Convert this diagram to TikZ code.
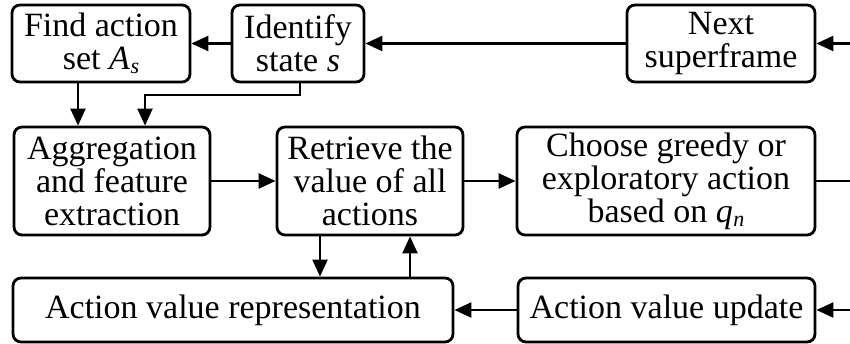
\documentclass[tikz,border=0pt]{standalone}
\usepackage{fontspec}
\setmainfont{Liberation Serif}
\usetikzlibrary{arrows.meta}
\newcommand{\subit}[1]{\kern0.5pt\raisebox{-0.28ex}{\fontsize{22}{22}\selectfont\itshape #1}}
\begin{document}
\begin{tikzpicture}[x=1pt,y=-1pt,
  box/.style={draw,line width=2.8pt,rounded corners=8pt,align=center,inner sep=0pt,
    font=\fontsize{34}{33}\selectfont},
  flow/.style={line width=2.3pt,-{Triangle[length=17pt,width=15pt]}},
  plain/.style={line width=2.3pt}]
\useasboundingbox (0,0) rectangle (850,344);
% top row
\node[box,minimum width=178pt,minimum height=77pt] (find) at (101,43.5)
  {Find action\\set \textit{A}\subit{s}};
\node[box,minimum width=132pt,minimum height=77pt] (ident) at (298,43.5)
  {Identify\\state \textit{s}};
\node[box,minimum width=188pt,minimum height=77pt] (next) at (721,43.5)
  {Next\\superframe};
% middle row
\node[box,minimum width=196pt,minimum height=108pt] (agg) at (112,181)
  {Aggregation\\and feature\\extraction};
\node[box,minimum width=186pt,minimum height=108pt] (ret) at (370,181)
  {Retrieve the\\value of all\\actions};
\node[box,minimum width=298pt,minimum height=108pt] (choose) at (666,181)
  {Choose greedy or\\exploratory action\\based on \textit{q}\subit{n}};
% bottom row
\node[box,minimum width=440pt,minimum height=64pt] (rep) at (233,310)
  {Action value representation};
\node[box,minimum width=297pt,minimum height=64pt] (upd) at (666.5,310)
  {Action value update};
% free ends at the right border and bend points
\coordinate (inTop) at (850,43.5);
\coordinate (outMid) at (850,181);
\coordinate (inBot) at (850,310);
\coordinate (xa) at (78,0);
\coordinate (xb) at (145,0);
\coordinate (xs) at (300,0);
\coordinate (bend) at (0,95);
\coordinate (xd) at (320,0);
\coordinate (xu) at (410,0);
% connectors
\draw[flow] (inTop) -- (next.east);
\draw[flow] (next.west) -- (ident.east);
\draw[flow] (ident.west) -- (find.east);
\draw[flow] (xa |- find.south) -- (xa |- agg.north);
\draw[flow] (xs |- ident.south) -- (xs |- bend) -- (xb |- bend) -- (xb |- agg.north);
\draw[flow] (agg.east) -- (ret.west);
\draw[flow] (ret.east) -- (choose.west);
\draw[plain] (choose.east) -- (outMid);
\draw[flow] (inBot) -- (upd.east);
\draw[flow] (upd.west) -- (rep.east);
\draw[flow] (xd |- ret.south) -- (xd |- rep.north);
\draw[flow] (xu |- rep.north) -- (xu |- ret.south);
\end{tikzpicture}
\end{document}
